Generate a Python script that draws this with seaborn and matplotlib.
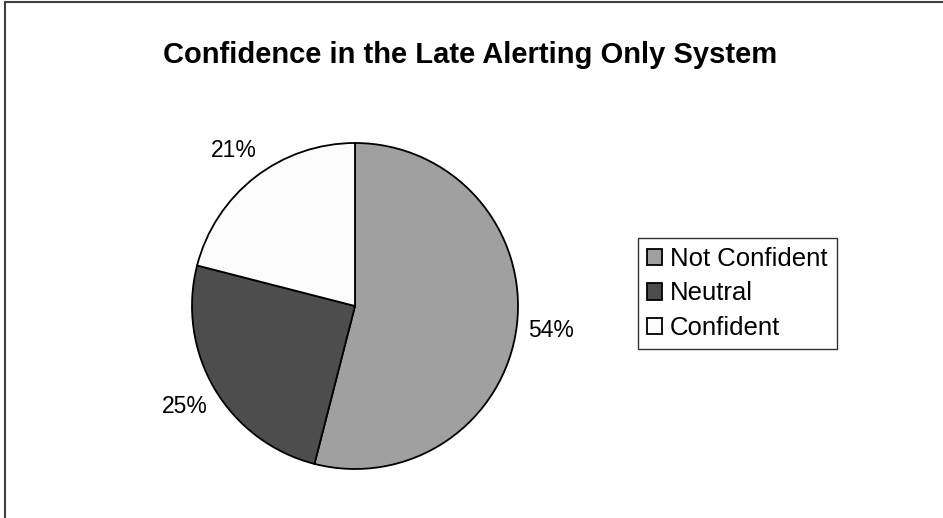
import matplotlib
matplotlib.use("Agg")
import matplotlib.pyplot as plt
import seaborn as sns
from matplotlib.patches import Rectangle

# data
categories = ["Not Confident", "Neutral", "Confident"]
shares = [54, 25, 21]
colors = ["#A0A0A0", "#4D4D4D", "#FCFCFC"]

sns.set_theme(style="white")
plt.rcParams['font.family'] = ['Liberation Sans', 'DejaVu Sans']
plt.rcParams['text.color'] = 'black'

W, H = 943, 518
fig = plt.figure(figsize=(W / 100, H / 100), dpi=100)
fig.patch.set_facecolor("white")

# pie axes placed in pixels: center (355, 306), radius 163
cx, cy, r = 355, 306, 163
ax = fig.add_axes([(cx - r) / W, (H - cy - r) / H, 2 * r / W, 2 * r / H])
wedges, texts, autotexts = ax.pie(
    shares, colors=colors, startangle=90, counterclock=False,
    autopct='%1.0f%%', pctdistance=1.21,
    wedgeprops=dict(edgecolor="black", linewidth=1.3),
    textprops=dict(fontsize=16.5, color="black"))
ax.set_xlim(-1, 1)
ax.set_ylim(-1, 1)
ax.set_aspect("equal")

fig.text(470 / W, 1 - 55 / H, "Confidence in the Late Alerting Only System",
         ha="center", va="center", fontsize=21, fontweight="bold", color="black")

leg = fig.legend(wedges, categories, loc="center left",
                 bbox_to_anchor=(638 / W, (H - 293.5) / H),
                 fontsize=18.5, frameon=True, fancybox=False,
                 handlelength=0.6, handleheight=0.6, handletextpad=0.3,
                 labelspacing=0.4, borderpad=0.35, borderaxespad=0)
leg.get_frame().set_edgecolor("black")
leg.get_frame().set_linewidth(1.0)
for t in leg.get_texts():
    t.set_color("black")

# outer border (only top and left visible in the original crop)
fig.add_artist(Rectangle((5 / W, -0.1), 1.2, (H - 2) / H + 0.1,
                         transform=fig.transFigure, fill=False,
                         edgecolor="#404040", linewidth=1.5))

fig.savefig("out.png", dpi=100)
